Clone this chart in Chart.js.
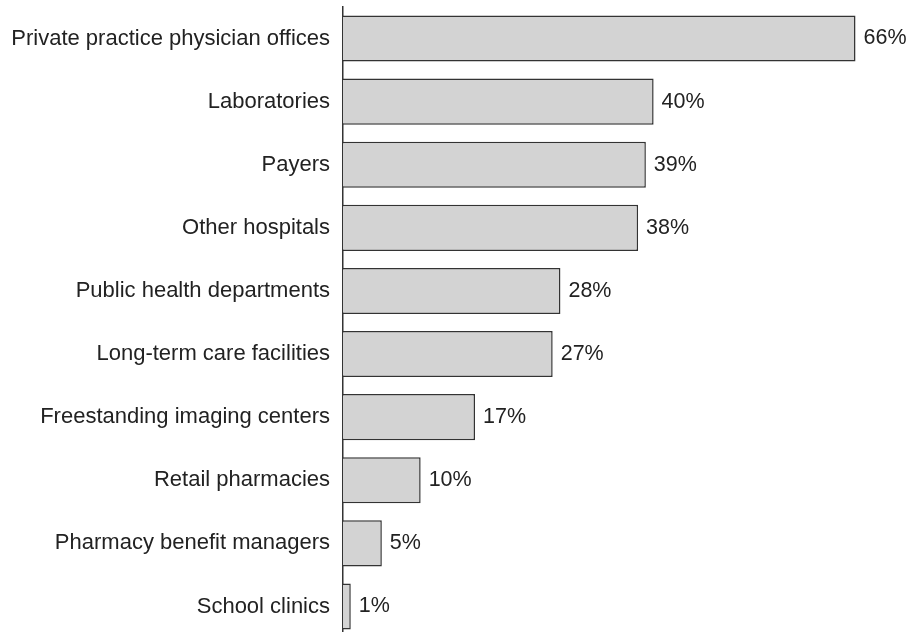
<!DOCTYPE html>
<html>
<head>
<meta charset="utf-8">
<script src="https://cdn.jsdelivr.net/npm/chart.js@4/dist/chart.umd.min.js"></script>
<style>
  html, body { margin: 0; padding: 0; background: #fff; overflow: hidden; }
  #wrap { width: 906px; height: 632px; overflow: hidden; }
  #box { width: 906px; height: 640px; }
</style>
</head>
<body>
<div id="wrap"><div id="box"><canvas id="chart"></canvas></div></div>
<script>
const categories = [
    'Private practice physician offices',
    'Laboratories',
    'Payers',
    'Other hospitals',
    'Public health departments',
    'Long-term care facilities',
    'Freestanding imaging centers',
    'Retail pharmacies',
    'Pharmacy benefit managers',
    'School clinics'
];
const shares = [66, 40, 39, 38, 28, 27, 17, 10, 5, 1];

const fontFamily = '"Liberation Sans", Arial, Helvetica, sans-serif';

// writes "66%" etc. just right of each bar
const valueLabels = {
    id: 'valueLabels',
    afterDatasetsDraw(chart) {
        const ctx = chart.ctx;
        const meta = chart.getDatasetMeta(0);
        ctx.save();
        ctx.font = '21.5px ' + fontFamily;
        ctx.fillStyle = '#222';
        ctx.textAlign = 'left';
        ctx.textBaseline = 'middle';
        meta.data.forEach((bar, i) => {
            ctx.fillText(shares[i] + '%', bar.x + 8, bar.y);
        });
        ctx.restore();
    }
};

new Chart(document.getElementById('chart'), {
    type: 'bar',
    data: {
        labels: categories,
        datasets: [{
            data: shares,
            backgroundColor: '#d3d3d3',
            borderColor: '#333',
            borderWidth: 1.5,
            categoryPercentage: 1,
            barPercentage: 0.73
        }]
    },
    options: {
        indexAxis: 'y',
        responsive: true,
        maintainAspectRatio: false,
        animation: false,
        layout: { padding: { top: 7, bottom: 2, left: 0, right: 0 } },
        plugins: {
            legend: { display: false },
            tooltip: { enabled: false }
        },
        scales: {
            x: {
                display: false,
                min: 0,
                max: 72.5
            },
            y: {
                grid: { display: false, drawTicks: false },
                border: { display: true, color: '#333', width: 1.5 },
                ticks: {
                    color: '#222',
                    padding: 13,
                    font: { family: fontFamily, size: 22 }
                },
                afterFit(scale) {
                    scale.width = 343;
                    scale.paddingTop = 0;
                    scale.paddingBottom = 0;
                }
            }
        }
    },
    plugins: [valueLabels]
});
</script>
</body>
</html>
